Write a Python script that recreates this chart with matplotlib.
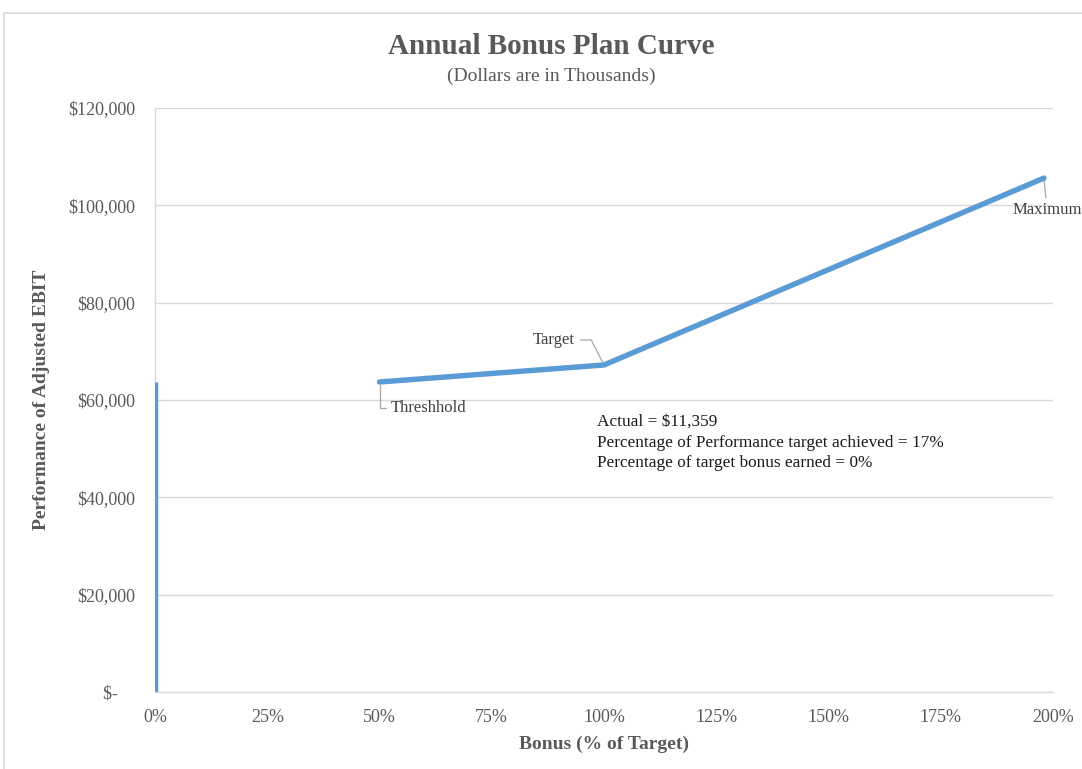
import matplotlib
matplotlib.use("Agg")
import matplotlib.pyplot as plt
from matplotlib.patches import Rectangle
from matplotlib.ticker import FuncFormatter

plt.rcParams['font.family'] = ['Liberation Serif', 'DejaVu Serif']

# Data (bonus % of target, adjusted EBIT in $ thousands)
zero_x = [0, 0]
zero_y = [0, 63700]
curve_x = [50, 100, 198]
curve_y = [63700, 67200, 105600]
point_labels = ["Threshhold", "Target", "Maximum"]
x_ticks = [0, 25, 50, 75, 100, 125, 150, 175, 200]
y_ticks = [0, 20000, 40000, 60000, 80000, 100000, 120000]
info_lines = ["Actual = $11,359",
              "Percentage of Performance target achieved = 17%",
              "Percentage of target bonus earned = 0%"]

TXT = '#595959'
LINE = '#5b9bd5'
GRID = '#d9d9d9'
LEAD = '#a6a6a6'

fig = plt.figure(figsize=(10.82, 7.69), dpi=100)
fig.patches.append(Rectangle((4/1082, -0.1), 1.2, 1 - 13/769 + 0.1, transform=fig.transFigure,
                             fill=False, edgecolor=GRID, linewidth=1.2, zorder=0))
ax = fig.add_axes([155/1082, 1 - 692/769, 898/1082, 584/769])

ax.plot(zero_x, zero_y, color=LINE, linewidth=3.9, solid_capstyle='butt', zorder=3)
ax.plot(curve_x, curve_y, color=LINE, linewidth=3.9, solid_capstyle='round', solid_joinstyle='round', zorder=3)

ax.set_xlim(0, 200)
ax.set_ylim(0, 120000)
ax.set_xticks(x_ticks)
ax.set_yticks(y_ticks)
ax.xaxis.set_major_formatter(FuncFormatter(lambda v, p: f"{v:.0f}%"))
ax.yaxis.set_major_formatter(FuncFormatter(lambda v, p: "$-    " if v == 0 else f"${v:,.0f}"))
ax.tick_params(axis='both', length=0, labelsize=13, colors=TXT)
ax.tick_params(axis='x', pad=12)
ax.tick_params(axis='y', pad=14)
ax.grid(axis='y', color=GRID, linewidth=1.0)
ax.set_axisbelow(True)
for s in ['top', 'right']:
    ax.spines[s].set_visible(False)
ax.spines['left'].set_color(GRID)
ax.spines['bottom'].set_color(GRID)
ax.spines['left'].set_linewidth(1.0)
ax.spines['bottom'].set_linewidth(1.0)

ax.set_xlabel("Bonus (% of Target)", fontsize=14, fontweight='bold', color=TXT, labelpad=7)
ax.set_ylabel("Performance of Adjusted EBIT", fontsize=14, fontweight='bold', color=TXT, labelpad=13)

fig.text(551/1082, 1 - 46/769, "Annual Bonus Plan Curve", ha='center', va='center',
         fontsize=21, fontweight='bold', color=TXT)
fig.text(551/1082, 1 - 76/769, "(Dollars are in Thousands)", ha='center', va='center',
         fontsize=14, color=TXT)

# Data labels with leader lines
ax.annotate(point_labels[0], xy=(curve_x[0], curve_y[0]), xytext=(8, -19), textcoords='offset points',
            ha='left', va='center', fontsize=12, color='#404040',
            arrowprops=dict(arrowstyle='-', color=LEAD, lw=0.9, shrinkA=1, shrinkB=2,
                            connectionstyle='angle,angleA=180,angleB=90,rad=0'))
ax.annotate(point_labels[1], xy=(curve_x[1], curve_y[1]), xytext=(-21, 18), textcoords='offset points',
            ha='right', va='center', fontsize=12, color='#404040',
            arrowprops=dict(arrowstyle='-', color=LEAD, lw=0.9, shrinkA=2, shrinkB=2,
                            connectionstyle='angle,angleA=0,angleB=117,rad=0'))
ax.annotate(point_labels[2], xy=(curve_x[2], curve_y[2]), xytext=(-23, -23), textcoords='offset points',
            ha='left', va='center', fontsize=12, color='#404040', annotation_clip=False,
            arrowprops=dict(arrowstyle='-', color=LEAD, lw=0.9, shrinkA=1, shrinkB=2))

ax.text((597 - 155) / 898, (692 - 414) / 584, "\n".join(info_lines),
        transform=ax.transAxes, ha='left', va='top', fontsize=12.4, color='#1a1a1a',
        linespacing=1.38)

fig.savefig("out.png", dpi=100, facecolor='white')
